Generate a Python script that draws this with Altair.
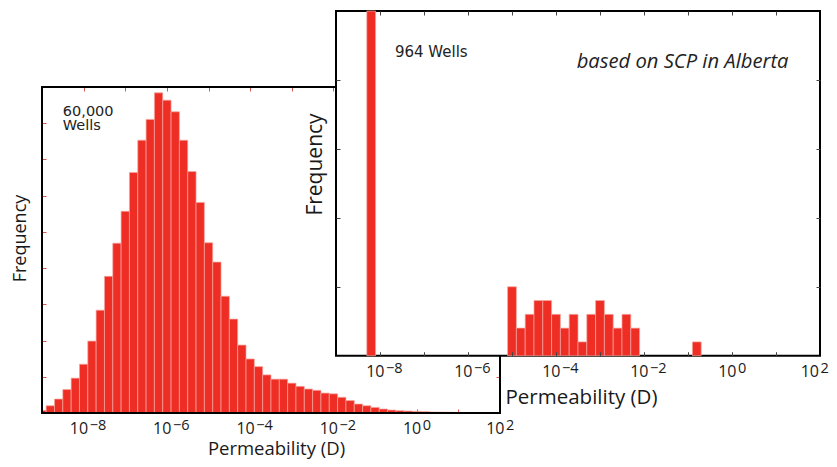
import altair as alt
import pandas as pd

# ---------------- data ----------------
# log10(permeability / D) bin centres, 0.2-decade bins
LEFT_BIN_CENTERS = [-9.0, -8.8, -8.6, -8.4, -8.2, -8.0, -7.8, -7.6, -7.4, -7.2,
                    -7.0, -6.8, -6.6, -6.4, -6.2, -6.0, -5.8, -5.6, -5.4, -5.2,
                    -5.0, -4.8, -4.6, -4.4, -4.2, -4.0, -3.8, -3.6, -3.4, -3.2,
                    -3.0, -2.8, -2.6, -2.4, -2.2, -2.0, -1.8, -1.6, -1.4, -1.2,
                    -1.0, -0.8, -0.6, -0.4, -0.2, 0.0, 0.2, 0.4, 0.6, 0.8,
                    1.0, 1.2, 1.4, 1.6, 1.8, 2.0]
LEFT_COUNTS = [36, 100, 192, 324, 481, 673, 993, 1419, 1886, 2344,
               2784, 3320, 3765, 4053, 4419, 4318, 4158, 3765, 3333, 2907,
               2350, 2083, 1612, 1296, 938, 746, 640, 526, 467, 467,
               412, 368, 331, 313, 275, 265, 217, 172, 124, 100,
               77, 55, 41, 32, 27, 22, 18, 14, 12, 10,
               8, 6, 5, 4, 3, 2]

RIGHT_BIN_CENTERS = [-8.2, -5.0, -4.8, -4.6, -4.4, -4.2, -4.0, -3.8, -3.6,
                     -3.4, -3.2, -3.0, -2.8, -2.6, -2.4, -2.2, -0.8]
RIGHT_COUNTS = [919, 5, 2, 3, 4, 4, 3, 2, 3, 1, 3, 4, 3, 2, 3, 2, 1]

BIN_WIDTH = 0.2
X_DOMAIN = [-9, 2]
LEFT_Y_DOMAIN = [0, 4500]
RIGHT_Y_DOMAIN = [0, 25]

DECADE_TICKS = [-8, -7, -6, -5, -4, -3, -2, -1, 0, 1]
LABEL_TICKS = [-8, -6, -4, -2, 0, 2]
LABEL_BASE = "10"
LABEL_EXPONENTS = ["−8", "−6", "−4", "−2", "0", "2"]
LEFT_Y_TICKS = [500, 1000, 1500, 2000, 2500, 3000, 3500, 4000]
RIGHT_Y_TICKS = [5, 10, 15, 20]

LEFT_NOTE_TEXT = ["60,000\nWells"]
LEFT_NOTE_X = [-8.5]
LEFT_NOTE_Y = [4104]
RIGHT_NOTE_TEXT = ["964 Wells"]
RIGHT_NOTE_X = [-7.66]
RIGHT_NOTE_Y = [21.69]
RIGHT_NOTE2_TEXT = ["based on SCP in Alberta"]
RIGHT_NOTE2_X = [-3.53]
RIGHT_NOTE2_Y = [20.85]

X_TITLE = "Permeability (D)"
Y_TITLE = "Frequency"

# ---------------- layout / style ----------------
W, H = 821, 451
LEFT_X_RANGE = [34, 492]
LEFT_Y_RANGE = [405, 79]
RIGHT_X_RANGE = [328, 812]
RIGHT_Y_RANGE = [347.7, 3]

RED = "#ee2e24"
EDGE = "#f5a59e"
LTICK = "#e0524a"
RTICK = "#444444"
TXT = "#1a1a1a"
FONT = "Open Sans, DejaVu Sans"

exp_expr = " : ".join(
    f"datum.value == {v} ? '{e}'" for v, e in zip(LABEL_TICKS, LABEL_EXPONENTS)
) + " : ''"
LAST_TEST = f"datum.value == {LABEL_TICKS[-1]}"


def sc(domain, rng):
    return alt.Scale(domain=domain, range=rng, nice=False, zero=False, clamp=True)


def label_offset(base, shift_last):
    if shift_last:
        return {"condition": {"test": LAST_TEST, "value": base - 5.5}, "value": base}
    return base


def tick_axis(orient, offset, values, color, z):
    return alt.Axis(orient=orient, offset=offset, values=values, labels=False,
                    domain=False, grid=False, ticks=True, tickSize=4,
                    tickWidth=1, tickColor=color, title=None, zindex=z)


def x_label_axis(offset, title_x, title_y, fs_title, pad, shift_last, z):
    return alt.Axis(orient="bottom", offset=offset, values=LABEL_TICKS,
                    labelExpr=f"'{LABEL_BASE}'", ticks=False, tickSize=0,
                    domain=False, grid=False, labelFont=FONT, labelFontSize=16,
                    labelAlign="right", labelBaseline="alphabetic",
                    labelOffset=label_offset(4, shift_last), labelPadding=pad,
                    labelFlush=False, labelOverlap=False, labelColor=TXT,
                    title=X_TITLE, titleFont=FONT, titleFontSize=fs_title,
                    titleFontWeight="normal", titleColor=TXT, titleX=title_x,
                    titleY=title_y, titleAlign="center",
                    titleBaseline="alphabetic", zindex=z)


def x_exp_axis(offset, pad, shift_last, z):
    return alt.Axis(orient="bottom", offset=offset, values=LABEL_TICKS,
                    labelExpr=exp_expr, ticks=False, tickSize=0, domain=False,
                    grid=False, labelFont=FONT, labelFontSize=14.5,
                    labelAlign="left", labelBaseline="alphabetic",
                    labelOffset=label_offset(5.5, shift_last), labelPadding=pad,
                    labelFlush=False, labelOverlap=False, labelColor=TXT,
                    title=None, zindex=z)


def y_label_axis(offset, title_x, title_y, fs_title, z):
    return alt.Axis(orient="left", offset=offset, labels=False, ticks=False,
                    tickSize=0, domain=False, grid=False, title=Y_TITLE,
                    titleFont=FONT, titleFontSize=fs_title,
                    titleFontWeight="normal", titleColor=TXT, titleX=title_x,
                    titleY=title_y, titleAngle=270, titleAlign="center",
                    titleBaseline="middle", zindex=z)


left_df = pd.DataFrame({"c": LEFT_BIN_CENTERS, "count": LEFT_COUNTS})
left_df["x0"] = left_df["c"] - BIN_WIDTH / 2
left_df["x1"] = left_df["c"] + BIN_WIDTH / 2
right_df = pd.DataFrame({"c": RIGHT_BIN_CENTERS, "count": RIGHT_COUNTS})
right_df["x0"] = right_df["c"] - BIN_WIDTH / 2
right_df["x1"] = right_df["c"] + BIN_WIDTH / 2

left_frame_df = pd.DataFrame({"x0": [X_DOMAIN[0]], "x1": [X_DOMAIN[1]],
                              "y0": [LEFT_Y_DOMAIN[0]], "y1": [LEFT_Y_DOMAIN[1]]})
right_frame_df = pd.DataFrame({"x0": [X_DOMAIN[0]], "x1": [X_DOMAIN[1]],
                               "y0": [RIGHT_Y_DOMAIN[0]], "y1": [RIGHT_Y_DOMAIN[1]]})

left_note_df = pd.DataFrame({"x": LEFT_NOTE_X, "y": LEFT_NOTE_Y, "label": LEFT_NOTE_TEXT})
right_note_df = pd.DataFrame({"x": RIGHT_NOTE_X, "y": RIGHT_NOTE_Y, "label": RIGHT_NOTE_TEXT})
right_note2_df = pd.DataFrame({"x": RIGHT_NOTE2_X, "y": RIGHT_NOTE2_Y, "label": RIGHT_NOTE2_TEXT})

# ---------------- left panel (60,000 wells) ----------------
left_bars = alt.Chart(left_df).mark_rect(fill=RED, stroke=EDGE, strokeWidth=0.7).encode(
    x=alt.X("x0:Q", scale=sc(X_DOMAIN, LEFT_X_RANGE),
            axis=tick_axis("top", -LEFT_Y_RANGE[0], DECADE_TICKS, LTICK, 0)),
    x2="x1:Q",
    y=alt.Y("count:Q", scale=sc(LEFT_Y_DOMAIN, LEFT_Y_RANGE),
            axis=tick_axis("right", LEFT_X_RANGE[0] - W, LEFT_Y_TICKS, LTICK, 0)),
    y2=alt.datum(0),
)

left_frame = alt.Chart(left_frame_df).mark_rect(
    fill="white", fillOpacity=0, stroke="black", strokeWidth=2
).encode(
    x=alt.X("x0:Q", scale=sc(X_DOMAIN, LEFT_X_RANGE),
            axis=x_label_axis(LEFT_Y_RANGE[0] - H, 268, 41.5, 18.5, 20.5, False, 0)),
    x2="x1:Q",
    y=alt.Y("y0:Q", scale=sc(LEFT_Y_DOMAIN, LEFT_Y_RANGE),
            axis=y_label_axis(-LEFT_X_RANGE[0], -21.5, 230, 18, 0)),
    y2="y1:Q",
)

left_exp = alt.Chart(left_frame_df).mark_rect(opacity=0).encode(
    x=alt.X("x0:Q", scale=sc(X_DOMAIN, LEFT_X_RANGE),
            axis=x_exp_axis(LEFT_Y_RANGE[0] - H, 16, False, 0)),
    x2="x1:Q",
    y=alt.Y("y0:Q", scale=sc(LEFT_Y_DOMAIN, LEFT_Y_RANGE), axis=None),
    y2="y1:Q",
)

left_note = alt.Chart(left_note_df).mark_text(
    align="left", baseline="alphabetic", font="DejaVu Sans", fontSize=14.5,
    lineBreak="\n", lineHeight=14, color="#222222"
).encode(
    x=alt.X("x:Q", scale=sc(X_DOMAIN, LEFT_X_RANGE),
            axis=tick_axis("bottom", LEFT_Y_RANGE[1] - H, DECADE_TICKS, LTICK, 0)),
    y=alt.Y("y:Q", scale=sc(LEFT_Y_DOMAIN, LEFT_Y_RANGE),
            axis=tick_axis("left", -LEFT_X_RANGE[1], LEFT_Y_TICKS, LTICK, 0)),
    text="label:N",
)

# ---------------- right panel (964 wells) ----------------
right_frame = alt.Chart(right_frame_df).mark_rect(
    fill="white", stroke="black", strokeWidth=2
).encode(
    x=alt.X("x0:Q", scale=sc(X_DOMAIN, RIGHT_X_RANGE),
            axis=x_label_axis(RIGHT_Y_RANGE[0] - H, 573, 47.6, 20.5, 21, True, 1)),
    x2="x1:Q",
    y=alt.Y("y0:Q", scale=sc(RIGHT_Y_DOMAIN, RIGHT_Y_RANGE),
            axis=y_label_axis(-RIGHT_X_RANGE[0], -21, 156, 21, 1)),
    y2="y1:Q",
)

right_bars = alt.Chart(right_df).mark_rect(fill=RED, stroke=EDGE, strokeWidth=0.7).encode(
    x=alt.X("x0:Q", scale=sc(X_DOMAIN, RIGHT_X_RANGE),
            axis=tick_axis("top", -RIGHT_Y_RANGE[0], DECADE_TICKS, RTICK, 1)),
    x2="x1:Q",
    y=alt.Y("count:Q", scale=sc(RIGHT_Y_DOMAIN, RIGHT_Y_RANGE),
            axis=tick_axis("right", RIGHT_X_RANGE[0] - W, RIGHT_Y_TICKS, RTICK, 1)),
    y2=alt.datum(0),
)

right_note = alt.Chart(right_note_df).mark_text(
    align="left", baseline="alphabetic", font="DejaVu Sans", fontSize=15,
    color="#222222"
).encode(
    x=alt.X("x:Q", scale=sc(X_DOMAIN, RIGHT_X_RANGE),
            axis=tick_axis("bottom", RIGHT_Y_RANGE[1] - H, DECADE_TICKS, RTICK, 1)),
    y=alt.Y("y:Q", scale=sc(RIGHT_Y_DOMAIN, RIGHT_Y_RANGE),
            axis=tick_axis("left", -RIGHT_X_RANGE[1], RIGHT_Y_TICKS, RTICK, 1)),
    text="label:N",
)

right_note2 = alt.Chart(right_note2_df).mark_text(
    align="left", baseline="alphabetic", font="Open Sans", fontStyle="italic",
    fontSize=20.2, color="#222222"
).encode(
    x=alt.X("x:Q", scale=sc(X_DOMAIN, RIGHT_X_RANGE),
            axis=x_exp_axis(RIGHT_Y_RANGE[0] - H, 16.5, True, 1)),
    y=alt.Y("y:Q", scale=sc(RIGHT_Y_DOMAIN, RIGHT_Y_RANGE), axis=None),
    text="label:N",
)

chart = alt.layer(
    left_bars, left_frame, left_exp, left_note,
    right_frame, right_bars, right_note, right_note2
).resolve_scale(
    x="independent", y="independent"
).properties(
    width=W, height=H, padding=0,
    autosize=alt.AutoSizeParams(type="none"),
    background="white",
).configure_view(strokeWidth=0)

chart.save("out.html", embed_options={"renderer": "svg", "actions": False})
